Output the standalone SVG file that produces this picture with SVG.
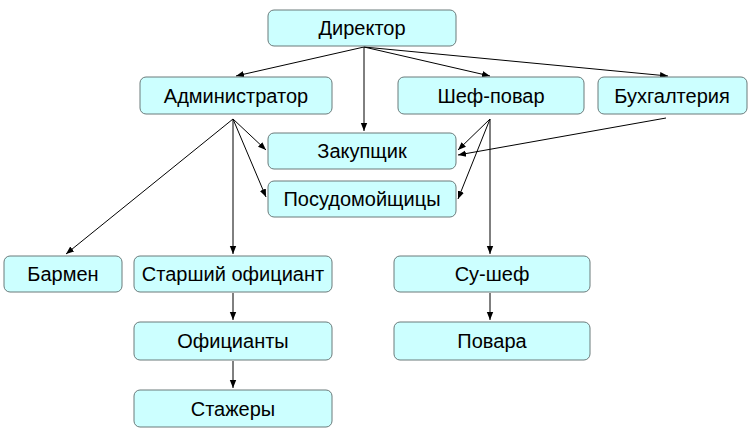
<svg xmlns="http://www.w3.org/2000/svg" width="750" height="437" viewBox="0 0 750 437">
<style>
.n rect{fill:#ccffff;stroke:#6b7b7b;stroke-width:1}
.n text{font-family:"Liberation Sans",Arial,sans-serif;font-size:20px;fill:#000;text-anchor:middle;dominant-baseline:central}
.e line{stroke:#000;stroke-width:1;marker-end:url(#a)}
</style>
<defs><marker id="a" viewBox="0 0 10 10" refX="10" refY="5" markerWidth="8" markerHeight="8" orient="auto" markerUnits="userSpaceOnUse"><path d="M0,1 L10,5 L0,9 Z" fill="#000"/></marker></defs>
<rect width="750" height="437" fill="#fff"/>
<g class="e">
<line x1="364" y1="47" x2="236" y2="76"/>
<line x1="364" y1="47" x2="364" y2="131"/>
<line x1="364" y1="47" x2="490" y2="76"/>
<line x1="364" y1="47" x2="668" y2="76"/>
<line x1="233" y1="119" x2="266" y2="150"/>
<line x1="233" y1="119" x2="266" y2="197"/>
<line x1="233" y1="119" x2="66" y2="254"/>
<line x1="233" y1="119" x2="233" y2="254"/>
<line x1="490" y1="119" x2="458" y2="150"/>
<line x1="490" y1="119" x2="458" y2="199"/>
<line x1="490" y1="119" x2="490" y2="254"/>
<line x1="666" y1="118" x2="458" y2="155"/>
<line x1="233" y1="293" x2="233" y2="320"/>
<line x1="233" y1="361" x2="233" y2="388"/>
<line x1="490" y1="293" x2="490" y2="320"/>
</g>
<g id="director" class="n"><rect x="268" y="10" width="188" height="36" rx="6"/><text x="362" y="28">Директор</text></g>
<g id="admin" class="n"><rect x="140" y="77" width="192" height="37" rx="6"/><text x="236" y="96">Администратор</text></g>
<g id="chef" class="n"><rect x="398" y="77" width="186" height="37" rx="6"/><text x="491" y="96">Шеф-повар</text></g>
<g id="buh" class="n"><rect x="598" y="77" width="149" height="37" rx="6"/><text x="672" y="96">Бухгалтерия</text></g>
<g id="zak" class="n"><rect x="268" y="133" width="188" height="36" rx="6"/><text x="362" y="151">Закупщик</text></g>
<g id="pos" class="n"><rect x="268" y="181" width="188" height="36" rx="6"/><text x="362" y="199">Посудомойщицы</text></g>
<g id="barmen" class="n"><rect x="4" y="256" width="118" height="36" rx="6"/><text x="63" y="274">Бармен</text></g>
<g id="starsh" class="n"><rect x="134" y="256" width="198" height="36" rx="6"/><text x="233" y="274">Старший официант</text></g>
<g id="sushef" class="n"><rect x="394" y="256" width="196" height="36" rx="6"/><text x="492" y="274">Су-шеф</text></g>
<g id="ofic" class="n"><rect x="134" y="322" width="198" height="38" rx="6"/><text x="233" y="341">Официанты</text></g>
<g id="povara" class="n"><rect x="394" y="322" width="196" height="38" rx="6"/><text x="492" y="341">Повара</text></g>
<g id="stazh" class="n"><rect x="134" y="390" width="198" height="37" rx="6"/><text x="233" y="409">Стажеры</text></g>
</svg>
